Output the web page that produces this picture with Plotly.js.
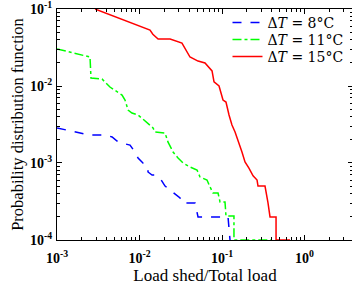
<!DOCTYPE html>
<html><head><meta charset="utf-8">
<script src="https://cdn.plot.ly/plotly-3.0.1.min.js"></script>
<style>html,body{margin:0;padding:0;overflow:hidden;background:#fff}</style>
</head><body><div id="chart" style="width:353px;height:286px"></div>
<script>
const seriesNames = ['\u0394<i>T</i> = 8\u00b0C', '\u0394<i>T</i> = 11\u00b0C', '\u0394<i>T</i> = 15\u00b0C'];

const blueX = [0.001, 0.00144, 0.00218, 0.00265, 0.00382, 0.00465, 0.00534, 0.00667, 0.00767, 0.00881, 0.0096, 0.0110, 0.01267, 0.01267, 0.0142, 0.0154, 0.0177, 0.0204, 0.02345, 0.0269, 0.031, 0.0327, 0.0471, 0.0512, 0.1183, 0.125];
const blueY = [0.00285, 0.0026, 0.00238, 0.00231, 0.00231, 0.00218, 0.00193, 0.00177, 0.00171, 0.00139, 0.00116, 0.001, 0.000888, 0.000764, 0.000698, 0.000698, 0.000638, 0.000502, 0.000446, 0.000407, 0.000351, 0.000303, 0.000303, 0.000199, 0.000199, 0.0001];

const greenX = [0.001, 0.00251, 0.00258, 0.00351, 0.00438, 0.00534, 0.00614, 0.00667, 0.00726, 0.0081, 0.0096, 0.0110, 0.01267, 0.01459, 0.0154, 0.0204, 0.0221, 0.0255, 0.0293, 0.0337, 0.0409, 0.0498, 0.0541, 0.0658, 0.0716, 0.0778, 0.0895, 0.0946, 0.1087, 0.1117, 0.1396, 0.1396, 0.404];
const greenY = [0.0303, 0.0238, 0.0127, 0.01233, 0.0097, 0.00835, 0.00764, 0.00658, 0.00488, 0.00446, 0.0042, 0.00372, 0.0033, 0.00285, 0.00253, 0.00245, 0.00188, 0.00139, 0.00116, 0.001, 0.000888, 0.00081, 0.000658, 0.0006, 0.000488, 0.000407, 0.000407, 0.000312, 0.000312, 0.000205, 0.000205, 0.0001, 0.0001];

const redX = [0.00289, 0.0134, 0.0145, 0.0168, 0.0235, 0.0327, 0.0409, 0.0512, 0.0622, 0.0757, 0.080, 0.092, 0.1028, 0.1117, 0.1216, 0.132, 0.1439, 0.1563, 0.1745, 0.190, 0.212, 0.238, 0.266, 0.273, 0.332, 0.361, 0.382, 0.452, 0.452, 0.667];
const redY = [0.1, 0.0533, 0.0470, 0.0407, 0.0407, 0.0361, 0.0238, 0.0211, 0.0199, 0.0157, 0.0113, 0.0100, 0.00658, 0.00619, 0.0042, 0.00312, 0.00253, 0.00199, 0.00139, 0.00103, 0.00086, 0.00068, 0.0006, 0.000502, 0.000502, 0.000303, 0.000199, 0.000199, 0.0001, 0.0001];

const xTickVals = [0.001, 0.01, 0.1, 1];
const xTickText = ['10<sup>-3</sup>', '10<sup>-2</sup>', '10<sup>-1</sup>', '10<sup>0</sup>'];
const yTickVals = [0.0001, 0.001, 0.01, 0.1];
const yTickText = ['10<sup>-4</sup>', '10<sup>-3</sup>', '10<sup>-2</sup>', '10<sup>-1</sup>'];

const serif = 'Liberation Serif, Times New Roman, serif';

const traces = [
  {x: blueX, y: blueY, name: seriesNames[0], legend: 'legend', mode: 'lines', line: {color: '#0000ff', width: 1.5, dash: 'dash'}},
  {x: greenX, y: greenY, name: seriesNames[1], legend: 'legend2', mode: 'lines', line: {color: '#00ff00', width: 1.5, dash: 'dashdot'}},
  {x: redX, y: redY, name: seriesNames[2], legend: 'legend3', mode: 'lines', line: {color: '#ff0000', width: 1.5}}
];

const axisCommon = {
  type: 'log', showgrid: false, zeroline: false, showline: true, linecolor: '#000', linewidth: 1,
  mirror: 'ticks', ticks: 'inside', ticklen: 5, tickcolor: '#000', tickmode: 'array',
  ticklabeloverflow: 'allow',
  tickfont: {family: serif, size: 14, color: '#000', weight: 'bold'},
  minor: {ticks: 'inside', ticklen: 3, tickcolor: '#000', dtick: 'D1', showgrid: false}
};

function legendAt(yFrac) {
  return {x: 0.576, xanchor: 'left', y: yFrac, yanchor: 'middle', bgcolor: 'rgba(0,0,0,0)',
          font: {family: 'DejaVu Serif, serif', size: 14, color: '#000'}, itemwidth: 30};
}

const layout = {
  width: 353, height: 286,
  margin: {l: 57, r: 0, t: 9, b: 46},
  paper_bgcolor: '#fff', plot_bgcolor: '#fff',
  showlegend: true,
  legend: legendAt(0.9394),
  legend2: legendAt(0.8658),
  legend3: legendAt(0.7922),
  xaxis: Object.assign({}, axisCommon, {
    range: [-3.0005, 0.588], tickvals: xTickVals, ticktext: xTickText, ticklabelstandoff: 5,
    title: {text: 'Load shed/Total load', font: {family: serif, size: 17, color: '#000'}, standoff: 2}
  }),
  yaxis: Object.assign({}, axisCommon, {
    range: [-4.0005, -0.9995], tickvals: yTickVals, ticktext: yTickText, ticklabelstandoff: 1,
    title: {text: 'Probability distribution function', font: {family: serif, size: 16.5, color: '#000'}, standoff: 2}
  })
};

Plotly.newPlot('chart', traces, layout, {displayModeBar: false, staticPlot: true});
</script></body></html>
